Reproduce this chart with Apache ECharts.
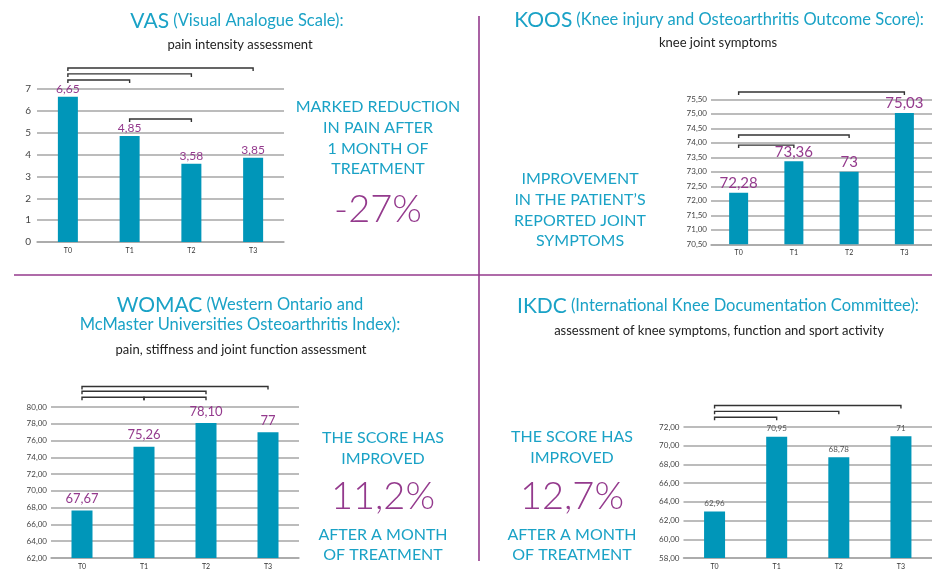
<!DOCTYPE html>
<html>
<head>
<meta charset="utf-8">
<script src="https://cdn.jsdelivr.net/npm/echarts@6/dist/echarts.min.js"></script>
<style>
  html, body { margin: 0; padding: 0; background: #ffffff; }
  #main { width: 932px; height: 570px; }
</style>
</head>
<body>
<div id="main"></div>
<script>
var categories = ['T0', 'T1', 'T2', 'T3'];

// VAS
var vasValues = [6.65, 4.85, 3.58, 3.85];
var vasLabels = ['6,65', '4,85', '3,58', '3,85'];
var vasBrackets = [[0, 3, 7.96], [0, 2, 7.69], [0, 1, 7.41], [1, 2, 5.63]];

// KOOS
var koosValues = [72.28, 73.36, 73, 75.03];
var koosLabels = ['72,28', '73,36', '73', '75,03'];
var koosBrackets = [[0, 3, 75.75], [0, 2, 74.27], [0, 1, 73.92]];

// WOMAC
var womacValues = [67.67, 75.26, 78.10, 77];
var womacLabels = ['67,67', '75,26', '78,10', '77'];
var womacBrackets = [[0, 3, 82.45], [0, 2, 81.87], [0, 1, 81.17], [1, 2, 81.17]];

// IKDC
var ikdcValues = [62.96, 70.95, 68.78, 71];
var ikdcLabels = ['62,96', '70,95', '68,78', '71'];
var ikdcBrackets = [[0, 3, 74.3], [0, 2, 73.67], [0, 1, 73.05]];

var BAR = '#0096b9';
var PURPLE = '#943a8d';
var CYAN = '#1aa2c6';
var FONT = 'Lato, "Noto Sans", sans-serif';

var myChart = echarts.init(document.getElementById('main'));

function commaFmt(v) {
    return v.toFixed(2).replace('.', ',');
}

function xAxisFor(i) {
    return {
        type: 'category',
        gridIndex: i,
        data: categories,
        axisTick: { show: false },
        axisLine: { lineStyle: { color: '#a6a6a6', width: 1.5 } },
        axisLabel: { fontSize: 7, color: '#333', margin: 5, fontFamily: FONT }
    };
}

function yAxisFor(i, min, max, interval, fmt) {
    return {
        type: 'value',
        gridIndex: i,
        min: min,
        max: max,
        interval: interval,
        axisLine: { show: false },
        axisTick: { show: false },
        splitLine: { lineStyle: { color: '#a6a6a6', width: 1.5 } },
        axisLabel: {
            fontSize: i == 0 ? 10 : 8,
            color: '#444',
            margin: i == 0 ? 6 : 4,
            fontFamily: FONT,
            formatter: fmt
        }
    };
}

function barSeries(i, values, labels, barWidth, labelStyle) {
    return {
        type: 'bar',
        xAxisIndex: i,
        yAxisIndex: i,
        barWidth: barWidth,
        itemStyle: { color: BAR },
        label: {
            show: true,
            position: 'top',
            distance: labelStyle.distance,
            fontSize: labelStyle.size,
            color: labelStyle.color,
            fontFamily: FONT,
            formatter: function (p) { return labels[p.dataIndex]; }
        },
        data: values,
        z: 2
    };
}

function bracketSeries(i, brackets) {
    return {
        type: 'custom',
        xAxisIndex: i,
        yAxisIndex: i,
        silent: true,
        clip: false,
        z: 5,
        renderItem: function (params, api) {
            var a = api.coord([api.value(0), api.value(2)]);
            var b = api.coord([api.value(1), api.value(2)]);
            return {
                type: 'polyline',
                shape: { points: [[a[0], a[1] + 3], [a[0], a[1]], [b[0], b[1]], [b[0], b[1] + 3]] },
                style: { stroke: '#333', lineWidth: 1.4, fill: null }
            };
        },
        encode: { x: 0, y: 2 },
        data: brackets
    };
}

function txt(x, y, text, size, color, extra) {
    var o = {
        type: 'text',
        x: x,
        y: y,
        style: {
            text: text,
            textAlign: 'center',
            textVerticalAlign: 'middle',
            fontSize: size,
            fontFamily: FONT,
            fill: color
        }
    };
    if (extra) {
        for (var k in extra) o.style[k] = extra[k];
    }
    return o;
}

function title(x, y, big, rest) {
    return txt(x, y, '{a|' + big + '} {b|' + rest + '}', 16, CYAN, {
        rich: {
            a: { fontSize: 21, fontFamily: FONT, fill: CYAN },
            b: { fontSize: 16.5, fontFamily: FONT, fill: CYAN }
        }
    });
}

var Options = {
    animation: false,
    grid: [
        { left: 37, top: 89, width: 247, height: 153 },
        { left: 711, top: 99.3, width: 224, height: 145 },
        { left: 51, top: 407, width: 248, height: 154 },
        { left: 683.5, top: 427, width: 252, height: 134 }
    ],
    xAxis: [xAxisFor(0), xAxisFor(1), xAxisFor(2), xAxisFor(3)],
    yAxis: [
        yAxisFor(0, 0, 7, 1, function (v) { return v; }),
        yAxisFor(1, 70.5, 75.5, 0.5, commaFmt),
        yAxisFor(2, 62, 80, 2, commaFmt),
        yAxisFor(3, 58, 72, 2, commaFmt)
    ],
    series: [
        barSeries(0, vasValues, vasLabels, 20, { size: 12, color: PURPLE, distance: 2 }),
        barSeries(1, koosValues, koosLabels, 19, { size: 15, color: PURPLE, distance: 2 }),
        barSeries(2, womacValues, womacLabels, 21, { size: 13, color: PURPLE, distance: 5 }),
        barSeries(3, ikdcValues, ikdcLabels, 21, { size: 8, color: '#555', distance: 4 }),
        bracketSeries(0, vasBrackets),
        bracketSeries(1, koosBrackets),
        bracketSeries(2, womacBrackets),
        bracketSeries(3, ikdcBrackets)
    ],
    graphic: [
        // dividers
        { type: 'line', shape: { x1: 14, y1: 275, x2: 932, y2: 275 }, style: { stroke: PURPLE, lineWidth: 1.6 } },
        { type: 'line', shape: { x1: 479, y1: 16, x2: 479, y2: 561 }, style: { stroke: PURPLE, lineWidth: 1.6 } },

        // VAS
        title(237, 21, 'VAS', '(Visual Analogue Scale):'),
        txt(240, 45, 'pain intensity assessment', 13, '#222'),
        txt(378, 138, 'MARKED REDUCTION\nIN PAIN AFTER\n1 MONTH OF\nTREATMENT', 16, CYAN, { lineHeight: 20.7 }),
        txt(378, 210, '-27%', 38, PURPLE, { fontWeight: 300 }),

        // KOOS
        title(719, 20, 'KOOS', '(Knee injury and Osteoarthritis Outcome Score):'),
        txt(718, 43, 'knee joint symptoms', 13, '#222'),
        txt(580, 210, 'IMPROVEMENT\nIN THE PATIENT\u2019S\nREPORTED JOINT\nSYMPTOMS', 16, CYAN, { lineHeight: 20.7 }),

        // WOMAC
        title(240, 305, 'WOMAC', '(Western Ontario and'),
        txt(240, 325, 'McMaster Universities Osteoarthritis Index):', 16.5, CYAN),
        txt(241, 350, 'pain, stiffness and joint function assessment', 13, '#222'),
        txt(383, 448.5, 'THE SCORE HAS\nIMPROVED', 16, CYAN, { lineHeight: 21 }),
        txt(383, 497, '11,2%', 38, PURPLE, { fontWeight: 300 }),
        txt(383, 545, 'AFTER A MONTH\nOF TREATMENT', 16, CYAN, { lineHeight: 20 }),

        // IKDC
        title(718, 306, 'IKDC', '(International Knee Documentation Committee):'),
        txt(719, 331, 'assessment of knee symptoms, function and sport activity', 13, '#222'),
        txt(572, 447, 'THE SCORE HAS\nIMPROVED', 16, CYAN, { lineHeight: 20.7 }),
        txt(572, 497, '12,7%', 38, PURPLE, { fontWeight: 300 }),
        txt(572, 545, 'AFTER A MONTH\nOF TREATMENT', 16, CYAN, { lineHeight: 20 })
    ]
};

myChart.setOption(Options);
</script>
</body>
</html>
